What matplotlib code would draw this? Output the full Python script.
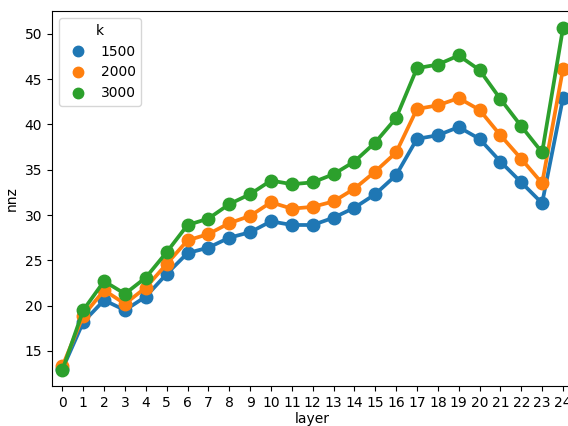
import numpy as np
import matplotlib
matplotlib.use("Agg")
import matplotlib.pyplot as plt
from matplotlib.lines import Line2D

layers = list(range(25))
k_values = ["1500", "2000", "3000"]
colors = ["#1f77b4", "#ff7f0e", "#2ca02c"]

nnz_1500 = [13.0, 18.2, 20.6, 19.5, 21.0, 23.5, 25.8, 26.4, 27.5, 28.1,
            29.3, 28.9, 28.9, 29.7, 30.8, 32.3, 34.4, 38.4, 38.8, 39.7,
            38.4, 35.9, 33.6, 31.3, 42.9]
nnz_2000 = [13.3, 18.9, 21.7, 20.2, 22.0, 24.6, 27.2, 27.9, 29.1, 29.9,
            31.4, 30.7, 30.9, 31.5, 32.9, 34.8, 36.9, 41.7, 42.1, 42.9,
            41.6, 38.8, 36.2, 33.5, 46.1]
nnz_3000 = [12.9, 19.5, 22.7, 21.3, 23.1, 25.9, 28.9, 29.6, 31.2, 32.3,
            33.8, 33.4, 33.6, 34.5, 35.9, 38.0, 40.7, 46.2, 46.6, 47.6,
            46.0, 42.8, 39.8, 36.9, 50.6]

fig = plt.figure(figsize=(5.68, 4.26), dpi=100)
ax = fig.add_axes([0.0915, 0.094, 0.918, 0.88])

handles = []
for k, vals, c in zip(k_values, [nnz_1500, nnz_2000, nnz_3000], colors):
    ax.plot(layers, vals, color=c, lw=2.7, marker="o", ms=9, zorder=2)
    handles.append(Line2D([], [], color=c, marker="o", ls="", ms=7.5, label=k))

ax.set_xlim(-0.5, 24.5)
ax.set_ylim(11.14, 52.5)
ax.set_xticks(layers)
ax.set_xticklabels([str(l) for l in layers])
ax.set_xlabel("layer", labelpad=2)
ax.set_ylabel("nnz")
ax.legend(handles=handles, title="k", loc="upper left", handletextpad=0.6)

fig.savefig("out.png", dpi=100)
